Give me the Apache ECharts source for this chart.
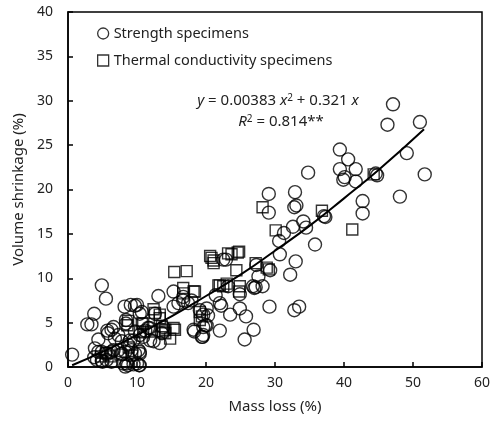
<!DOCTYPE html>
<html><head><meta charset="utf-8">
<script src="https://cdn.jsdelivr.net/npm/echarts@6/dist/echarts.min.js"></script>
<style>html,body{margin:0;padding:0;background:#fff}#c{width:496px;height:424px}</style>
</head><body><div id="c"></div>
<script>
const strengthPts = [
[47.1,29.6],[46.3,27.3],[51.0,27.6],[49.1,24.1],[51.7,21.7],[48.1,19.2],
[39.4,24.5],[40.6,23.4],[39.4,22.3],[41.7,22.3],[39.9,21.1],[40.1,21.4],[41.7,20.9],
[44.8,21.6],[44.6,21.8],[34.8,21.9],[42.7,18.7],[42.7,17.3],
[37.1,17.0],[37.3,16.9],[35.8,13.8],[34.1,16.4],[34.5,15.7],
[32.9,19.7],[32.8,18.0],[33.1,18.2],[32.6,15.8],
[29.1,19.5],[29.1,17.4],[31.3,15.1],[30.6,14.2],[30.7,12.7],[33.0,11.9],[32.2,10.4],
[29.2,6.8],[32.8,6.4],[33.5,6.8],
[27.3,11.5],[29.3,10.9],[27.6,10.2],[27.2,9.0],[27.0,8.9],[28.2,9.1],[26.8,9.1],
[22.5,12.1],[22.9,12.1],
[24.9,8.2],[21.4,8.1],[22.0,7.2],[22.2,6.9],[23.5,5.9],[24.9,6.6],[25.8,5.7],[26.9,4.2],
[25.6,3.1],[22.0,4.1],[20.3,5.8],[19.5,3.4],[20.1,4.7],[23.2,9.1],
[15.3,8.5],[15.3,6.8],[16.7,7.5],[17.9,7.5],[16.0,7.2],[17.4,7.2],[18.2,4.2],[19.1,6.4],
[20.1,6.6],[19.6,4.5],[19.6,3.6],[19.6,5.9],[19.9,4.7],[18.3,4.0],[19.4,3.4],[16.7,7.9],
[13.1,8.0],[11.9,3.0],[13.3,2.7],[12.4,2.9],[10.0,7.0],[10.4,6.0],[11.6,4.4],[11.8,4.4],
[11.2,4.1],[10.9,3.4],[12.6,6.0],[13.8,4.5],[13.6,3.8],
[10.2,1.9],[10.4,1.5],[10.0,0.4],[10.4,0.2],[10.4,1.7],
[0.6,1.4],[4.9,9.2],[5.5,7.7],[3.8,6.0],[2.8,4.8],[3.4,4.8],[8.2,6.8],[9.1,7.0],[9.7,6.9],
[10.7,6.2],[8.4,5.3],[8.4,4.9],[6.6,4.5],[5.7,4.1],[5.8,3.8],[6.3,4.2],[4.4,3.1],[6.8,3.2],
[7.3,3.6],[9.0,3.0],[9.7,4.0],[10.4,3.6],[7.8,2.9],[9.5,3.0],[8.7,2.5],
[3.9,2.1],[4.4,1.7],[4.9,1.7],[5.4,1.5],[5.8,1.5],[6.3,1.7],[7.3,1.9],[7.8,1.5],[8.3,1.7],
[9.2,1.9],[9.7,1.5],[6.6,1.9],
[4.2,0.8],[4.9,0.7],[5.6,0.8],[6.3,0.6],[5.0,0.6],[8.0,0.4],[8.7,0.2],[9.5,0.3],[8.3,0.05],
[8.5,0.4],[10.3,0.2],[3.8,1.1]
];
const thermalPts = [
[28.2,18.0],[36.8,17.6],[41.2,15.5],[44.3,21.7],[30.1,15.4],
[24.6,12.9],[23.7,12.7],[24.8,13.0],[20.6,12.5],[20.8,12.3],[21.1,12.0],[21.1,11.7],[23.2,12.8],
[24.4,10.9],[27.2,11.7],[28.8,11.2],[29.1,11.0],
[22.0,9.2],[22.5,9.1],[24.9,9.1],[21.8,9.2],[23.0,9.4],[24.8,8.5],
[15.4,10.7],[17.2,10.8],
[16.7,8.9],[16.7,8.3],[18.2,8.5],[18.4,8.5],
[19.1,5.3],[19.4,5.7],[19.1,6.2],
[12.4,6.5],[12.6,6.1],[13.3,5.5],[13.3,5.9],
[15.3,4.4],[15.5,4.2],[14.1,4.2],[14.8,3.2],[13.6,4.6],[13.8,4.0],[14.1,3.8],[12.1,4.0],
[10.7,4.9],[10.9,4.9],[10.4,4.0],[10.9,3.9],
[8.7,5.2],[8.6,4.7],[5.5,1.6],[6.2,1.2],[7.6,1.4],[8.8,2.2],[9.3,1.3],[4.8,1.2]
];
// fitted curve
const fitPts = [[0.6,0.2],[5,1.7],[10,3.6],[15,5.7],[20,8.0],[25,10.4],[30,13.1],[35,15.9],[40,19.0],[45,22.2],[51.6,26.8]];
const xTicks = [0,10,20,30,40,50,60];
const yTicks = [0,5,10,15,20,25,30,35,40];
const xName = 'Mass loss (%)';
const yName = 'Volume shrinkage (%)';
const seriesNames = ['Strength specimens','Thermal conductivity specimens'];

const FONT = 'Noto Sans';
const chart = echarts.init(document.getElementById('c'));
const markStyle = {color:'rgba(0,0,0,0)', borderColor:'#000', borderWidth:1.4};
chart.setOption({
  animation:false,
  grid:{left:68,right:14,top:12,bottom:57,show:true,borderColor:'#000',borderWidth:1.5,backgroundColor:'transparent'},
  xAxis:{type:'value',min:xTicks[0],max:xTicks[xTicks.length-1],interval:10,
    name:xName,nameLocation:'middle',nameGap:32,nameTextStyle:{fontSize:15,color:'#222',fontFamily:FONT},
    axisLine:{lineStyle:{color:'#000',width:1.5}},axisTick:{inside:true,length:5,lineStyle:{color:'#000',width:1.5}},
    axisLabel:{margin:9,fontSize:14,color:'#222',fontFamily:FONT},splitLine:{show:false}},
  yAxis:{type:'value',min:yTicks[0],max:yTicks[yTicks.length-1],interval:5,
    name:yName,nameLocation:'middle',nameGap:37,nameTextStyle:{fontSize:15,color:'#222',fontFamily:FONT},
    axisLine:{lineStyle:{color:'#000',width:1.5}},axisTick:{inside:true,length:5,lineStyle:{color:'#000',width:1.5}},
    axisLabel:{margin:15,fontSize:14,color:'#222',fontFamily:FONT},splitLine:{show:false}},
  legend:{data:seriesNames,orient:'vertical',left:92,top:20,itemGap:10,itemWidth:11,itemHeight:11,
    itemStyle:{borderWidth:1.3},
    textStyle:{fontSize:14.5,color:'#222',fontFamily:FONT,lineHeight:17}},
  graphic:[{type:'text',x:278,y:101,style:{
      text:'{i|y} = 0.00383 {i|x}{s|2} + 0.321 {i|x}',align:'center',verticalAlign:'middle',
      fontSize:15,fontFamily:FONT,fill:'#222',
      rich:{i:{fontStyle:'italic',fontSize:15,fontFamily:FONT},s:{fontSize:10,verticalAlign:'top',fontFamily:FONT}}}},
    {type:'text',x:281,y:122,style:{
      text:'{i|R}{s|2} = 0.814**',align:'center',verticalAlign:'middle',
      fontSize:15,fontFamily:FONT,fill:'#222',
      rich:{i:{fontStyle:'italic',fontSize:15,fontFamily:FONT},s:{fontSize:10,verticalAlign:'top',fontFamily:FONT}}}}],
  series:[
    {name:seriesNames[0],type:'scatter',symbol:'circle',symbolSize:13,data:strengthPts,itemStyle:markStyle,z:3},
    {name:seriesNames[1],type:'scatter',symbol:'rect',symbolSize:11,data:thermalPts,itemStyle:markStyle,z:3},
    {name:'fit',type:'line',data:fitPts,showSymbol:false,symbol:'none',smooth:true,lineStyle:{color:'#000',width:2},z:2}
  ]
});
</script></body></html>
